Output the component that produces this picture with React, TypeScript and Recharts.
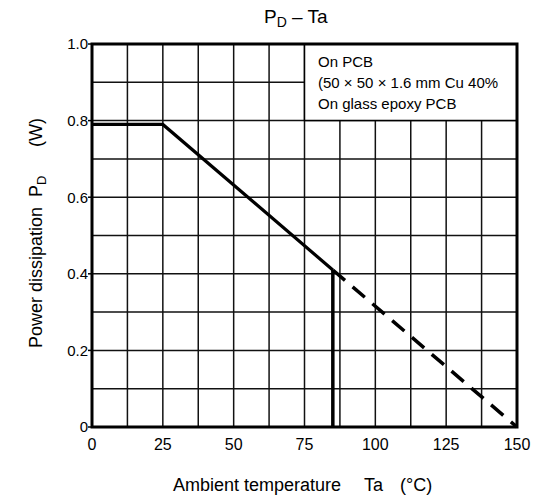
import React from 'react';
import { LineChart, Line, XAxis, YAxis, CartesianGrid, ReferenceArea } from 'recharts';

// derating curve (Ta in °C, PD in W)
const flatPart = [
  { t: 0, p: 0.79 },
  { t: 25, p: 0.79 },
  { t: 85, p: 0.41 },
];
const cutoff = [
  { t: 85, p: 0.41 },
  { t: 85, p: 0 },
];
const extrapolated = [
  { t: 85, p: 0.41 },
  { t: 150, p: 0 },
];

const xTicks = [0, 25, 50, 75, 100, 125, 150];
const yTicks = [0, 0.2, 0.4, 0.6, 0.8, 1.0];
const xGrid = [12.5, 25, 37.5, 50, 62.5, 75, 87.5, 100, 112.5, 125, 137.5];
const yGrid = [0.1, 0.2, 0.3, 0.4, 0.5, 0.6, 0.7, 0.8, 0.9];
const noteLines = ['On PCB', '(50 × 50 × 1.6 mm Cu 40%', 'On glass epoxy PCB'];

const font = 'Liberation Sans, Arial, sans-serif';

const fmtY = (v: number) => (v === 0 ? '0' : v.toFixed(1));

export default function App() {
  return (
    <div style={{ position: 'absolute', left: 0, top: 0, width: 538, height: 502, background: '#fff' }}>
      <LineChart width={538} height={502} margin={{ top: 44, right: 21, left: 32, bottom: 45 }}>
        <CartesianGrid
          stroke="#111"
          strokeWidth={1.5}
          horizontalValues={yGrid}
          verticalValues={xGrid}
        />
        <XAxis
          dataKey="t"
          type="number"
          domain={[0, 150]}
          ticks={xTicks}
          allowDuplicatedCategory={false}
          height={30}
          tickLine={false}
          axisLine={false}
          tickMargin={6}
          tick={{ fill: '#000', fontSize: 16, fontFamily: font }}
        />
        <YAxis
          dataKey="p"
          type="number"
          domain={[0, 1]}
          ticks={yTicks}
          width={60}
          tickFormatter={fmtY}
          tickSize={4}
          tickMargin={0}
          tickLine={{ stroke: '#000', strokeWidth: 1.5 }}
          axisLine={false}
          tick={{ fill: '#000', fontSize: 15, fontFamily: font }}
        />
        <ReferenceArea x1={75} x2={150} y1={0.8} y2={1} fill="#fff" fillOpacity={1} stroke="#000" strokeWidth={1.5} />
        <ReferenceArea x1={0} x2={150} y1={0} y2={1} fill="none" stroke="#000" strokeWidth={3} />
        <Line data={flatPart} dataKey="p" stroke="#000" strokeWidth={3.2} dot={false} activeDot={false} isAnimationActive={false} />
        <Line data={cutoff} dataKey="p" stroke="#000" strokeWidth={3.5} dot={false} activeDot={false} isAnimationActive={false} />
        <Line data={extrapolated} dataKey="p" stroke="#000" strokeWidth={3.5} strokeDasharray="16 10" dot={false} activeDot={false} isAnimationActive={false} />
      </LineChart>
      <svg width={538} height={502} style={{ position: 'absolute', left: 0, top: 0, pointerEvents: 'none' }}>
        <text x={264} y={23} fontFamily={font} fontSize={19} fill="#000">
          P<tspan fontSize={14} dy={4}>D</tspan>
          <tspan dy={-4}> – Ta</tspan>
        </text>
        {noteLines.map((s, i) => (
          <text key={s} x={318} y={67 + i * 21} fontFamily={font} fontSize={15} fill="#000">
            {s}
          </text>
        ))}
        <text x={173} y={491} fontFamily={font} fontSize={18} fill="#000">
          Ambient temperature
          <tspan x={364}>Ta</tspan>
          <tspan x={400}>(°C)</tspan>
        </text>
        <g transform="translate(41.5,348) rotate(-90)">
          <text x={0} y={0} fontFamily={font} fontSize={18} fill="#000">
            Power dissipation
            <tspan x={151}>P</tspan>
            <tspan fontSize={13} dy={4}>D</tspan>
            <tspan x={201} dy={-4}>(W)</tspan>
          </text>
        </g>
      </svg>
    </div>
  );
}
